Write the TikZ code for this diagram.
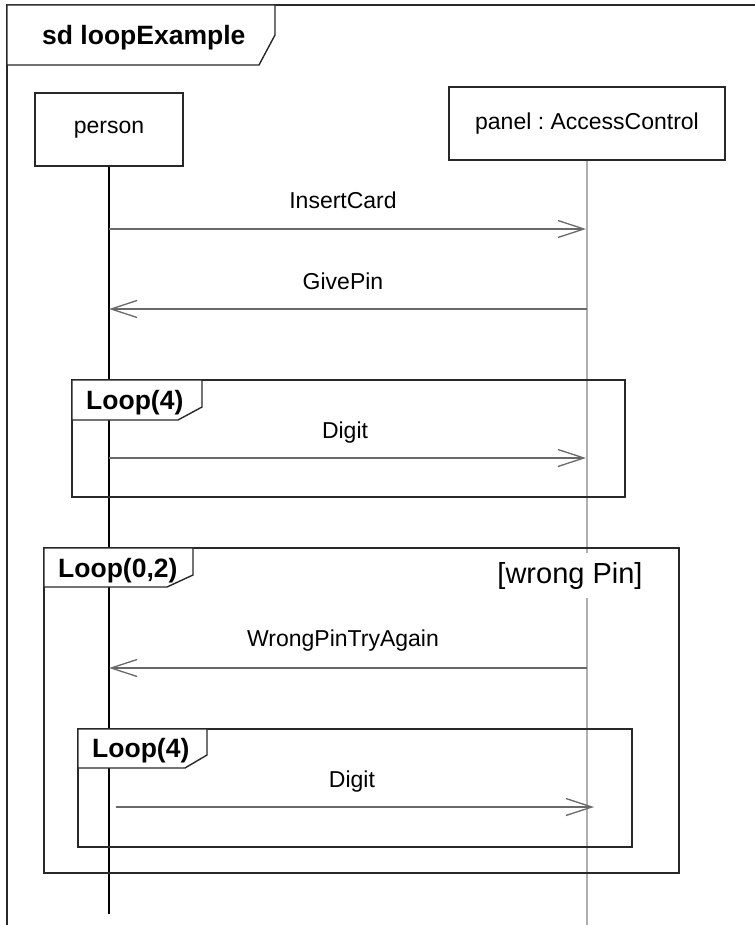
\documentclass[tikz,border=0pt]{standalone}
\usepackage{fontspec}
\setmainfont{Liberation Sans}
\usetikzlibrary{arrows.meta}
\definecolor{framec}{RGB}{40,40,40}
\definecolor{msgc}{RGB}{105,105,105}
\definecolor{lifec}{RGB}{175,175,175}
\begin{document}
\frenchspacing
\begin{tikzpicture}[x=1pt,y=-1pt,
  frame/.style={draw=framec,line width=1.4pt},
  tagbox/.style={draw=framec,line width=1.4pt,fill=white},
  head/.style={draw=framec,line width=1.4pt,fill=white,font=\fontsize{23}{27}\selectfont\frenchspacing,inner sep=0pt},
  msg/.style={draw=msgc,line width=1.4pt,-{Straight Barb[length=26pt,width=17pt,line width=1.3pt]}},
  lbl/.style={font=\fontsize{23}{27}\selectfont,inner sep=0pt,anchor=base},
  tagtxt/.style={font=\bfseries\fontsize{26.5}{30}\selectfont,inner sep=0pt,anchor=base west},
  guard/.style={font=\fontsize{29}{33}\selectfont,fill=white,inner sep=3pt,text height=22pt,text depth=6pt,minimum height=45pt}
]
\useasboundingbox (0,0) rectangle (754,925);

% outer frame
\draw[frame] (7,930) -- (7,5) -- (760,5);

% lifeline heads and lines
\node[head,minimum width=148pt,minimum height=73pt] (person) at (109,129.5) {person};
\node[head,minimum width=276pt,minimum height=73pt] (panel) at (587,123.5) {panel : AccessControl};
\coordinate (pend) at (109,914);
\coordinate (cend) at (587,926);
\draw[black,line width=1.3pt] (person.south) -- (pend);
\draw[lifec,line width=2pt] (panel.south) -- (cend);

% title tag
\draw[tagbox] (7,5) -- (275,5) -- (275,35) -- (259,65) -- (7,65) -- cycle;
\node[tagtxt] (title) at (42,45) {sd loopExample};

% messages
\coordinate (p1) at (109,229); \coordinate (c1) at (586,229);
\draw[msg] (p1) -- (c1);
\node[lbl] (t1) at (343,209) {InsertCard};

\coordinate (p2) at (109,309); \coordinate (c2) at (587,309);
\draw[msg] (c2) -- (p2);
\node[lbl] (t2) at (343,289) {GivePin};

% loop 1
\draw[frame] (72,380) rectangle (625,497);
\draw[tagbox] (72,380) -- (202,380) -- (202,407) -- (178,420) -- (72,420) -- cycle;
\node[tagtxt] (lp1) at (86,409) {Loop(4)};
\coordinate (p3) at (109,458); \coordinate (c3) at (586,458);
\draw[msg] (p3) -- (c3);
\node[lbl] (t3) at (345,438) {Digit};

% loop 2
\draw[frame] (44,548) rectangle (679,873);
\draw[tagbox] (44,548) -- (193,548) -- (193,575) -- (167,587) -- (44,587) -- cycle;
\node[tagtxt] (lp2) at (58,577) {Loop(0,2)};
\node[guard] (grd) at (570,575.5) {[wrong Pin]};

\coordinate (p4) at (109,668); \coordinate (c4) at (587,668);
\draw[msg] (c4) -- (p4);
\node[lbl] (t4) at (343,646) {WrongPinTryAgain};

% loop 3
\draw[frame] (78,729) rectangle (632,847);
\draw[tagbox] (78,729) -- (207,729) -- (207,755) -- (185,768) -- (78,768) -- cycle;
\node[tagtxt] (lp3) at (92,757) {Loop(4)};
\coordinate (p5) at (116,807); \coordinate (c5) at (594,807);
\draw[msg] (p5) -- (c5);
\node[lbl] (t5) at (352,787) {Digit};
\end{tikzpicture}
\end{document}
